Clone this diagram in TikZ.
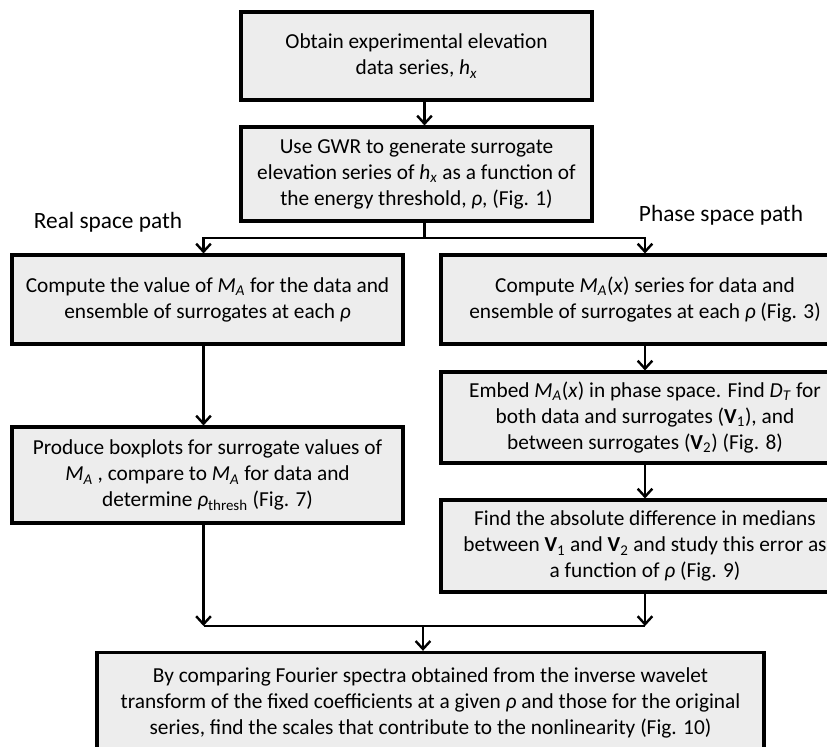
\documentclass[tikz,border=0pt]{standalone}
\usepackage{fontspec}
\setmainfont{Carlito}
\usetikzlibrary{arrows.meta,positioning}
\definecolor{boxgray}{HTML}{EDEDED}
\newcommand{\MA}{\textit{M}\textsubscript{\textit{A}}}
\newcommand{\hx}{\textit{h}\textsubscript{\textit{x}}}
\newcommand{\rh}{\textit{ρ}}
\newcommand{\Vsub}[1]{\textbf{V}\textsubscript{#1}}
\tikzset{
  % all steps share one look; only their sizes differ
  stepbox/.style  = {draw=black, line width=2.3pt, fill=boxgray, align=center,
                     font=\fontsize{16}{19.5}\selectfont, inner sep=0pt},
  flow/.style     = {line width=1.8pt,
                     -{Straight Barb[length=6pt,width=11pt,line width=1.8pt]}},
  joint/.style    = {line width=1.8pt},
  pathname/.style = {font=\fontsize{17.5}{21}\selectfont, inner sep=0pt},
}

\begin{document}
\begin{tikzpicture}[x=0.75pt, y=-0.75pt]
    \useasboundingbox (0,0) rectangle (827,746);
    \fill[white] (0,0) rectangle (827,746);
    \clip (0,0) rectangle (827,746);

    \node[stepbox, minimum width=263.25pt, minimum height=66pt] (obtain)
        at (416.5,56) {Obtain experimental elevation\\data series, \hx};
    \node[stepbox, minimum width=263.25pt, minimum height=70.5pt] (gwr)
        at (416.5,174) {Use GWR to generate surrogate\\elevation series of \hx{} as a function of\\the energy threshold, \rh, (Fig. 1)};

    \node[pathname] (realname)  at (108,222) {Real space path};
    \node[pathname] (phasename) at (721,215) {Phase space path};

    \node[stepbox, minimum width=293.25pt, minimum height=66.75pt] (realA)
        at (207.5,299.5) {Compute the value of \MA{} for the data and\\ensemble of surrogates at each \rh};
    \node[stepbox, minimum width=293.25pt, minimum height=72pt] (realB)
        at (207.5,475) {Produce boxplots for surrogate values of\\\MA{} , compare to \MA{} for data and\\determine \rh\textsubscript{thresh} (Fig. 7)};

    \node[stepbox, minimum width=306pt, minimum height=66.75pt] (phaseA)
        at (645,299.5) {Compute \MA(\textit{x}) series for data and\\ensemble of surrogates at each \rh{} (Fig. 3)};
    \node[stepbox, minimum width=306pt, minimum height=68.25pt] (phaseB)
        at (645,417.5) {Embed \MA(\textit{x}) in phase space. Find \textit{D}\textsubscript{\textit{T}} for\\both data and surrogates (\Vsub{1}), and\\between surrogates (\Vsub{2}) (Fig. 8)};
    \node[stepbox, minimum width=306pt, minimum height=69pt] (phaseC)
        at (645,546) {Find the absolute difference in medians\\between \Vsub{1} and \Vsub{2} and study this error as\\a function of \rh{} (Fig. 9)};

    \node[stepbox, minimum width=500.25pt, minimum height=76pt] (final)
        at (430.5,703) {By comparing Fourier spectra obtained from the inverse wavelet\\transform of the fixed coefficients at a given \rh{} and those for the original\\series, find the scales that contribute to the nonlinearity (Fig. 10)};

    \coordinate (split) at (424.5,238);
    \coordinate (merge) at (423,626);

    \draw[flow] ([xshift=6pt]obtain.south) -- ([xshift=6pt]gwr.north);
    \draw[joint] ([xshift=6pt]gwr.south) -- (split);
    \draw[flow] (split) -| ([xshift=-3pt]realA.north);
    \draw[flow] (split) -| (phaseA.north);

    \draw[flow] ([xshift=-3pt]realA.south) -- ([xshift=-3pt]realB.north);
    \draw[flow] (phaseA) -- (phaseB);
    \draw[flow] (phaseB) -- (phaseC);

    % both paths meet on one bar before the last step
    \draw[flow] ([xshift=-3pt]realB.south) -- ([xshift=-3pt]realB.south |- merge);
    \draw[flow] (phaseC.south) -- (phaseC.south |- merge);
    \draw[joint] ([xshift=-3pt]realB.south |- merge) -- (phaseC.south |- merge);
    \draw[flow] (merge) -- (merge |- final.north);
\end{tikzpicture}
\end{document}
